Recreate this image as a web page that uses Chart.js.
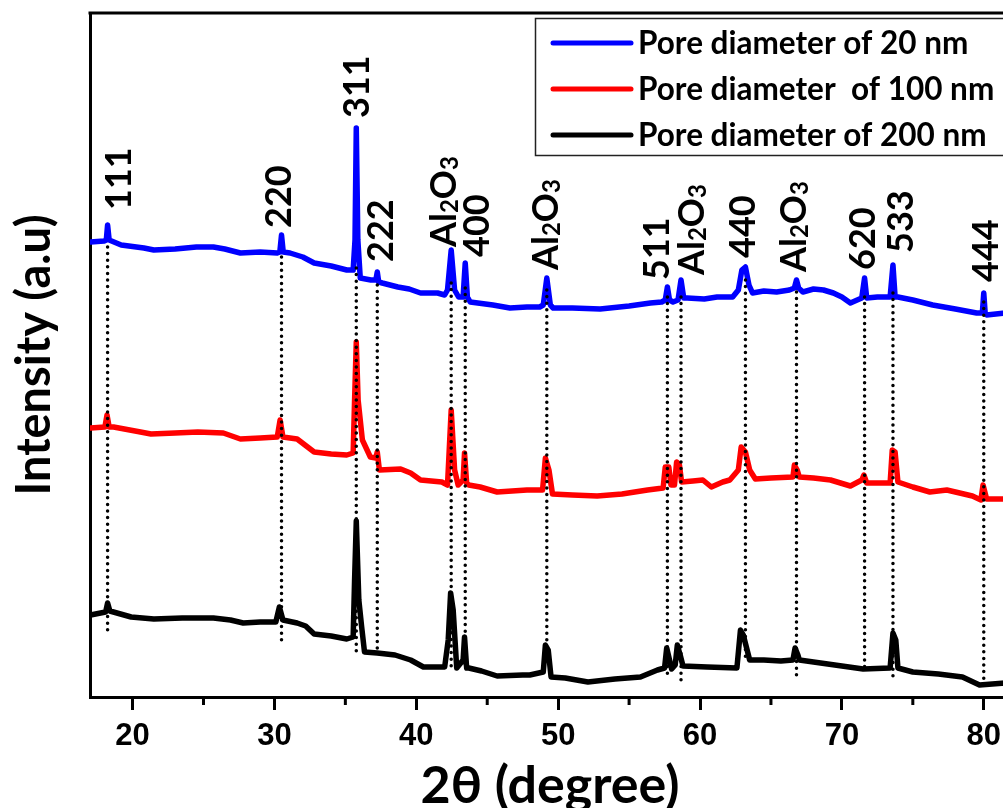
<!DOCTYPE html>
<html><head><meta charset="utf-8">
<script src="https://cdn.jsdelivr.net/npm/chart.js@4/dist/chart.umd.min.js"></script>
<style>
html,body{margin:0;padding:0;background:#fff;overflow:hidden;width:1003px;height:808px}
#wrap{width:1015px;height:808px;position:relative}
</style></head><body><div id="wrap"><canvas id="c" width="1015" height="808"></canvas></div>
<script>
// ---- data (2θ in degrees, intensity in arbitrary units) ----
const seriesNames = ['Pore diameter of 20 nm', 'Pore diameter  of 100 nm', 'Pore diameter of 200 nm'];
const seriesColors = ['#0000ff', '#ff0000', '#000000'];

const theta20 = [17.04,18.0,18.15,18.24,18.35,19.2,20.8,21.5,23.0,24.5,25.7,26.5,27.6,29.0,30.2,30.38,30.5,30.62,31.1,32.0,32.8,34.0,35.1,35.55,35.68,35.77,35.88,36.05,36.8,37.15,37.25,37.35,37.6,38.7,39.5,40.3,41.5,42.0,42.2,42.46,42.7,42.98,43.3,43.45,43.6,43.8,45.4,46.6,47.8,48.7,48.95,49.2,49.45,49.65,51.0,52.96,55.0,56.5,57.3,57.55,57.7,57.85,58.1,58.45,58.66,58.85,59.1,60.3,61.2,62.3,62.7,62.95,63.2,63.45,63.7,64.5,65.4,66.3,66.65,66.8,66.95,67.25,68.0,68.7,69.4,70.0,70.6,71.4,71.6,71.75,72.5,73.4,73.6,73.75,73.95,75.0,76.4,78.0,79.5,79.9,80.0,80.1,80.2,81.5];
const inten20 = [455,456,457,472,457,452,449,447,448,450,450,448,444,445,444,445,462,445,444,440,434,431,427,427,457,569,457,419,417,417,425,415,414,410,408,404,404,402,407,447,407,400,400,434,400,395,392,389,390,390,392,419,392,389,389,388,391,394,395,397,410,397,395,397,417,399,399,398,400,400,407,427,430,412,404,406,405,407,409,417,409,405,408,407,404,400,394,399,419,399,400,400,432,400,400,397,392,388,384,384,404,384,382,384];

const theta100 = [17.04,18.05,18.2,18.35,18.66,20.56,21.3,23.0,24.6,26.4,27.6,29.0,30.2,30.4,30.6,31.6,32.8,34.0,35.1,35.55,35.65,35.77,35.9,36.2,36.76,37.15,37.25,37.4,38.9,39.6,40.3,41.8,42.2,42.46,42.7,42.95,43.3,43.4,43.55,43.7,44.5,45.7,47.8,48.0,48.9,49.1,49.35,49.6,51.0,52.75,54.5,56.3,57.4,57.55,57.8,57.95,58.2,58.35,58.55,58.7,59.5,60.2,60.8,61.6,62.1,62.7,62.9,63.2,63.5,63.9,65.0,66.55,66.65,66.85,67.0,68.0,69.2,70.6,71.4,71.55,71.75,73.4,73.55,73.75,73.95,75.0,76.2,77.4,79.2,79.8,79.95,80.2,81.5];
const inten100 = [269,270,282,270,270,265,263,264,265,264,258,259,260,277,260,258,245,243,242,244,297,355,297,257,240,239,245,227,228,224,217,215,212,287,227,212,217,244,214,212,210,205,207,207,207,239,227,203,202,201,203,207,209,230,230,212,212,235,232,215,216,217,210,215,217,227,250,245,227,218,219,220,232,227,220,219,217,211,217,222,214,214,247,245,215,210,205,207,201,197,212,198,198];

const theta200 = [17.04,18.1,18.24,18.4,19.9,21.5,23.5,25.7,26.9,27.8,29.0,30.1,30.35,30.6,31.6,32.2,32.8,34.0,35.1,35.55,35.65,35.77,35.95,36.15,36.35,37.25,38.5,39.6,40.5,42.0,42.25,42.42,42.6,42.85,43.3,43.4,43.55,43.7,44.6,45.7,47.5,48.0,48.95,49.1,49.3,49.5,50.5,52.1,54.0,55.8,57.0,57.5,57.65,57.85,58.0,58.25,58.4,58.6,58.8,60.5,62.6,62.85,63.05,63.5,64.5,65.7,66.55,66.7,66.9,67.0,69.0,71.5,73.4,73.6,73.8,73.95,75.0,76.8,78.5,79.7,81.5];
const inten200 = [82,85,94,86,80,78,79,79,77,74,75,75,90,77,74,71,63,61,58,60,117,176,97,70,45,44,42,37,30,30,57,104,87,29,37,60,29,29,26,21,22,22,25,52,47,20,19,15,18,20,27,29,49,37,28,32,52,42,31,30,29,67,62,37,37,36,37,49,42,37,33,28,29,64,57,29,25,23,20,12,14];

// reflection labels
const peakLabels = ['111','220','311','222','Al2O3','400','Al2O3','511','Al2O3','440','Al2O3','620','533','444'];
const labelPos   = [18.97,30.25,35.73,37.42,41.87,44.2,49.06,56.88,59.35,62.95,66.55,71.41,74.09,80.08];
const labelBase  = [487,469,579,435,450,440,427,417,422,439,425,427,444,415];

// dotted guide lines
const markerPos    = [18.24,30.5,35.77,37.25,42.46,43.45,49.2,57.7,58.66,63.2,66.8,71.6,73.6,80.0];
const markerTop    = [450,440,429,412,414,409,407,400,400,417,405,400,404,395];
const markerBottom = [67,54,45,47,26,27,52,22,17,35,22,27,20,10];

const majorTicks = [20,30,40,50,60,70,80];
const minorTicks = [25,35,45,55,65,75];

// ---- build datasets ----
const pairs = (xs, ys) => xs.map((x, i) => ({x, y: ys[i]}));
const seriesData = [pairs(theta20, inten20), pairs(theta100, inten100), pairs(theta200, inten200)];

const datasets = seriesData.map((d, i) => ({
  label: seriesNames[i], data: d, borderColor: seriesColors[i], backgroundColor: seriesColors[i],
  borderWidth: 5.5, pointRadius: 0, tension: 0, borderJoinStyle: 'round', borderCapStyle: 'round', order: 1
}));
markerPos.forEach((p, i) => {
  datasets.push({
    label: '', isMarker: true,
    data: [{x: p, y: markerTop[i]}, {x: p, y: markerBottom[i]}],
    borderColor: '#000', borderWidth: 3.5, borderDash: [0, 6.6], borderCapStyle: 'round',
    pointRadius: 0, order: -1
  });
});

// ---- plugins ----
const framePlugin = {
  id: 'frame',
  afterDraw(chart) {
    const {ctx, chartArea: a, scales: {x}} = chart;
    ctx.save();
    ctx.strokeStyle = '#000'; ctx.lineWidth = 3;
    ctx.beginPath();
    ctx.moveTo(a.left - 1.5, a.top); ctx.lineTo(a.right + 1.5, a.top);
    ctx.moveTo(a.right, a.top); ctx.lineTo(a.right, a.bottom);
    ctx.stroke();
    // minor ticks
    ctx.beginPath();
    minorTicks.forEach(v => {
      const px = x.getPixelForValue(v);
      ctx.moveTo(px, a.bottom); ctx.lineTo(px, a.bottom + 8);
    });
    ctx.stroke();
    ctx.restore();
  }
};

const LFONT = 'Lato';
const labelPlugin = {
  id: 'peakLabels',
  afterDatasetsDraw(chart) {
    const {ctx, scales: {x, y}} = chart;
    const fs = 36, sub = 24, cap = fs * 0.72;
    ctx.save();
    ctx.fillStyle = '#000';
    ctx.textBaseline = 'alphabetic';
    ctx.textAlign = 'left';
    peakLabels.forEach((t, i) => {
      const px = x.getPixelForValue(labelPos[i]);
      const py = y.getPixelForValue(labelBase[i]);
      ctx.save();
      ctx.translate(px + cap / 2, py);
      ctx.rotate(-Math.PI / 2);
      const segs = (t === 'Al2O3') ? [['Al', false], ['2', true], ['O', false], ['3', true]] : [[t, false]];
      let cx = 0;
      segs.forEach(([s, isSub]) => {
        ctx.font = `bold ${isSub ? sub : fs}px ${LFONT}`;
        ctx.fillText(s, cx, isSub ? 2 : 0);
        cx += ctx.measureText(s).width;
      });
      ctx.restore();
    });
    ctx.restore();
  }
};

const legendPlugin = {
  id: 'boxLegend',
  afterDraw(chart) {
    const {ctx} = chart;
    const x0 = 535, y0 = 18, w = 500, h = 137;
    ctx.save();
    ctx.fillStyle = '#fff';
    ctx.fillRect(x0, y0, w, h);
    ctx.strokeStyle = '#222'; ctx.lineWidth = 1.5;
    ctx.strokeRect(x0 + 0.5, y0 + 0.5, w, h);
    const rows = [43, 89, 135];
    chart.data.datasets.filter(d => !d.isMarker).forEach((d, i) => {
      ctx.strokeStyle = d.borderColor; ctx.lineWidth = 5; ctx.lineCap = 'round';
      ctx.beginPath(); ctx.moveTo(553, rows[i]); ctx.lineTo(631, rows[i]); ctx.stroke();
      ctx.fillStyle = '#000';
      ctx.font = `bold 31.5px ${LFONT}`;
      ctx.textBaseline = 'middle'; ctx.textAlign = 'left';
      ctx.fillText(d.label, 638, rows[i] + 1);
    });
    ctx.restore();
  }
};

new Chart(document.getElementById('c'), {
  type: 'line',
  data: {datasets},
  plugins: [framePlugin, labelPlugin, legendPlugin],
  options: {
    responsive: false, animation: false, devicePixelRatio: 1,
    layout: {padding: {top: 13, right: 5, left: 0, bottom: 0}},
    plugins: {legend: {display: false}, tooltip: {enabled: false}},
    scales: {
      x: {
        type: 'linear', min: 17, max: 81.85,
        afterBuildTicks: s => { s.ticks = majorTicks.concat(minorTicks).sort((a, b) => a - b).map(v => ({value: v})); },
        afterFit: s => { s.height = 111; },
        ticks: {
          autoSkip: false, maxRotation: 0, padding: 8, color: '#000',
          font: {family: 'Liberation Sans', weight: 'bold', size: 31},
          callback: v => majorTicks.includes(v) ? String(v) : ''
        },
        grid: {
          display: true, drawOnChartArea: false, drawTicks: true, tickLength: 13, tickWidth: 3,
          tickColor: c => (c.tick && majorTicks.includes(c.tick.value)) ? '#000' : 'rgba(0,0,0,0)'
        },
        border: {display: true, color: '#000', width: 3},
        title: {display: true, text: '2θ (degree)', color: '#000',
          font: {family: LFONT, weight: 'bold', size: 52, lineHeight: 1}, padding: {top: 0, bottom: -4}}
      },
      y: {
        min: 0, max: 684,
        ticks: {display: false},
        grid: {display: false},
        border: {display: true, color: '#000', width: 3},
        afterFit: s => { s.width = 90; },
        title: {display: true, text: 'Intensity (a.u)', color: '#000',
          font: {family: LFONT, weight: 'bold', size: 47, lineHeight: 1.2}, padding: {top: 7, bottom: 0}}
      }
    }
  }
});
</script></body></html>
